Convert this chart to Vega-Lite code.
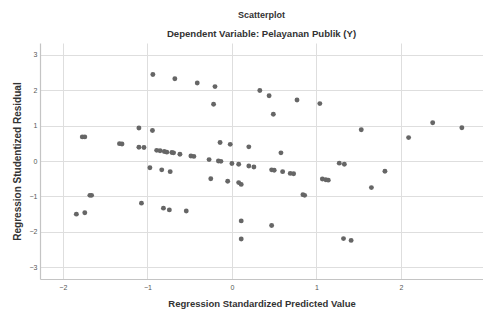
{
  "$schema": "https://vega.github.io/schema/vega-lite/v6.json",
  "width": 443,
  "height": 236,
  "autosize": "none",
  "padding": {"left": 40, "top": 43, "right": 0, "bottom": 32},
  "background": "white",
  "title": {
    "text": "Scatterplot",
    "subtitle": "Dependent Variable: Pelayanan Publik (Y)",
    "anchor": "middle",
    "font": "Liberation Sans",
    "fontSize": 9,
    "fontWeight": "bold",
    "color": "#333333",
    "subtitleFont": "Liberation Sans",
    "subtitleFontSize": 9.6,
    "subtitleFontWeight": "bold",
    "subtitleColor": "#333333",
    "subtitlePadding": 9,
    "offset": 4
  },
  "config": {
    "view": {"stroke": null},
    "axis": {
      "labelFont": "Liberation Sans",
      "labelFontSize": 7,
      "labelColor": "#555555",
      "titleFont": "Liberation Sans",
      "titleFontSize": 9.5,
      "titleFontWeight": "bold",
      "titleColor": "#333333",
      "gridColor": "#dedede",
      "gridWidth": 1,
      "domainColor": "#c4c4c4",
      "domainWidth": 1.2,
      "ticks": false
    }
  },
  "data": {
    "values": [
      {"pred": -0.935, "resid": 2.44},
      {"pred": -0.675, "resid": 2.32},
      {"pred": -0.41, "resid": 2.2},
      {"pred": -0.2, "resid": 2.1},
      {"pred": -0.217, "resid": 1.6},
      {"pred": 0.33, "resid": 1.99},
      {"pred": 0.44, "resid": 1.84},
      {"pred": 0.77, "resid": 1.72},
      {"pred": 1.04, "resid": 1.62},
      {"pred": 0.49, "resid": 1.32},
      {"pred": -1.1, "resid": 0.93},
      {"pred": -0.94, "resid": 0.86},
      {"pred": -1.77, "resid": 0.68},
      {"pred": -1.74, "resid": 0.68},
      {"pred": -1.33, "resid": 0.49},
      {"pred": -1.3, "resid": 0.48},
      {"pred": -1.1, "resid": 0.39},
      {"pred": -1.04, "resid": 0.38},
      {"pred": -0.14, "resid": 0.52},
      {"pred": -0.02, "resid": 0.47},
      {"pred": 0.2, "resid": 0.4},
      {"pred": 1.53, "resid": 0.88},
      {"pred": 2.09, "resid": 0.66},
      {"pred": 2.375, "resid": 1.08},
      {"pred": 2.72, "resid": 0.94},
      {"pred": -0.89, "resid": 0.3},
      {"pred": -0.85, "resid": 0.29},
      {"pred": -0.8, "resid": 0.27},
      {"pred": -0.77, "resid": 0.25},
      {"pred": -0.71, "resid": 0.24},
      {"pred": -0.69, "resid": 0.23},
      {"pred": -0.615, "resid": 0.19},
      {"pred": -0.485, "resid": 0.14},
      {"pred": -0.45, "resid": 0.13},
      {"pred": -0.27, "resid": 0.04},
      {"pred": -0.16, "resid": 0.0},
      {"pred": -0.13, "resid": -0.01},
      {"pred": 0.0, "resid": -0.07},
      {"pred": 0.08, "resid": -0.09},
      {"pred": 0.2, "resid": -0.14},
      {"pred": 0.26, "resid": -0.17},
      {"pred": -0.97, "resid": -0.19},
      {"pred": -0.83, "resid": -0.25},
      {"pred": -0.73, "resid": -0.3},
      {"pred": -0.25, "resid": -0.5},
      {"pred": -0.05, "resid": -0.57},
      {"pred": 0.08, "resid": -0.61},
      {"pred": 0.11, "resid": -0.66},
      {"pred": -1.68, "resid": -0.97},
      {"pred": -1.66, "resid": -0.97},
      {"pred": -1.07, "resid": -1.19},
      {"pred": -0.81, "resid": -1.33},
      {"pred": -0.74, "resid": -1.38},
      {"pred": -0.54, "resid": -1.41},
      {"pred": -1.84, "resid": -1.5},
      {"pred": -1.74, "resid": -1.46},
      {"pred": 0.11, "resid": -1.69},
      {"pred": 0.11, "resid": -2.2},
      {"pred": 0.58, "resid": 0.23},
      {"pred": 0.47, "resid": -0.25},
      {"pred": 0.5, "resid": -0.26},
      {"pred": 0.6, "resid": -0.3},
      {"pred": 0.69, "resid": -0.35},
      {"pred": 0.73, "resid": -0.36},
      {"pred": 0.84, "resid": -0.95},
      {"pred": 0.86, "resid": -0.97},
      {"pred": 1.07, "resid": -0.51},
      {"pred": 1.11, "resid": -0.53},
      {"pred": 1.14, "resid": -0.54},
      {"pred": 1.27, "resid": -0.06},
      {"pred": 1.33, "resid": -0.09},
      {"pred": 1.81, "resid": -0.29},
      {"pred": 1.65, "resid": -0.75},
      {"pred": 0.47, "resid": -1.82},
      {"pred": 1.32, "resid": -2.19},
      {"pred": 1.41, "resid": -2.24}
    ]
  },
  "mark": {"type": "circle", "size": 24, "color": "#666666", "opacity": 1},
  "encoding": {
    "x": {
      "field": "pred",
      "type": "quantitative",
      "title": "Regression Standardized Predicted Value",
      "scale": {"domain": [-2.27, 2.97], "nice": false, "zero": false},
      "axis": {"values": [-2, -1, 0, 1, 2], "labelPadding": 4, "titlePadding": 8}
    },
    "y": {
      "field": "resid",
      "type": "quantitative",
      "title": "Regression Studentized Residual",
      "scale": {"domain": [-3.33, 3.33], "nice": false, "zero": false},
      "axis": {"values": [-3, -2, -1, 0, 1, 2, 3], "labelPadding": 3, "titlePadding": 7, "titleFontSize": 10}
    }
  }
}
